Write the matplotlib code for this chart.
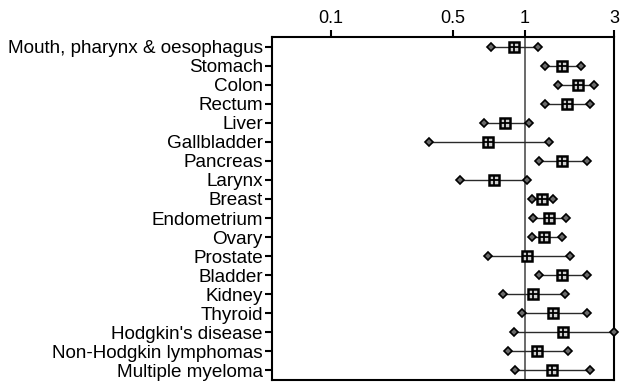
import numpy as np
import matplotlib.pyplot as plt

plt.rcParams['font.family'] = ['Liberation Sans', 'DejaVu Sans']

sites = ["Mouth, pharynx & oesophagus", "Stomach", "Colon", "Rectum", "Liver",
         "Gallbladder", "Pancreas", "Larynx", "Breast", "Endometrium", "Ovary",
         "Prostate", "Bladder", "Kidney", "Thyroid", "Hodgkin's disease",
         "Non-Hodgkin lymphomas", "Multiple myeloma"]
rr = [0.90, 1.58, 1.92, 1.68, 0.83, 0.70, 1.58, 0.743, 1.23, 1.34, 1.27,
      1.03, 1.58, 1.11, 1.42, 1.61, 1.16, 1.40]
lower = [0.72, 1.29, 1.50, 1.29, 0.675, 0.366, 1.19, 0.535, 1.09, 1.11, 1.09,
         0.70, 1.19, 0.81, 0.975, 0.906, 0.85, 0.91]
upper = [1.17, 2.01, 2.34, 2.23, 1.05, 1.35, 2.15, 1.025, 1.41, 1.67, 1.59,
         1.74, 2.15, 1.64, 2.15, 3.0, 1.70, 2.23]
xticks = [0.1, 0.5, 1, 3]
xticklabels = ['0.1', '0.5', '1', '3']

# the original axis is not a clean log axis: piecewise log between the ticks
anch_v = np.log10([0.03, 0.1, 0.5, 1, 3, 5])
anch_p = np.array([240.0, 331.0, 452.7, 525.0, 614.3, 655.8])


def fwd(x):
    x = np.clip(np.asarray(x, dtype=float), 1e-3, None)
    return np.interp(np.log10(x), anch_v, anch_p)


def inv(p):
    return 10 ** np.interp(p, anch_p, anch_v)


fig = plt.figure(figsize=(6.24, 3.83), dpi=100)
ax = fig.add_axes([272 / 624, 1 - 380 / 383, 342 / 624, 343 / 383])
ax.set_xscale('function', functions=(fwd, inv))

y = np.arange(len(sites))
ax.axvline(1, color='#505050', lw=1.2, zorder=1)
for i in range(len(sites)):
    ax.plot([lower[i], upper[i]], [y[i], y[i]], color='#2a2a2a', lw=1.0, zorder=2)
ax.plot(lower, y, 'D', ms=4.5, mfc='#6a6a6a', mec='black', mew=1.2, zorder=3, clip_on=False)
ax.plot(upper, y, 'D', ms=4.5, mfc='#6a6a6a', mec='black', mew=1.2, zorder=3, clip_on=False)
ax.plot(rr, y, 's', ms=7.5, mfc='#d0d0d0', mec='black', mew=1.8, zorder=4)
ax.plot(rr, y, '+', ms=7.5, color='black', mew=1.3, zorder=5)

ax.set_xlim(0.04583, 3)
ax.set_ylim(len(sites) - 0.5, -0.5)
ax.set_xticks(xticks)
ax.set_xticklabels(xticklabels, fontsize=13)
ax.xaxis.set_minor_locator(plt.NullLocator())
ax.xaxis.tick_top()
ax.tick_params(axis='x', direction='out', length=5, width=1.5, pad=2)
ax.set_yticks(y)
ax.set_yticklabels(sites, fontsize=13.6)
ax.tick_params(axis='y', direction='out', length=5, width=1.5, pad=1.5)
for s in ax.spines.values():
    s.set_linewidth(1.5)

fig.savefig('out.png', dpi=100)
